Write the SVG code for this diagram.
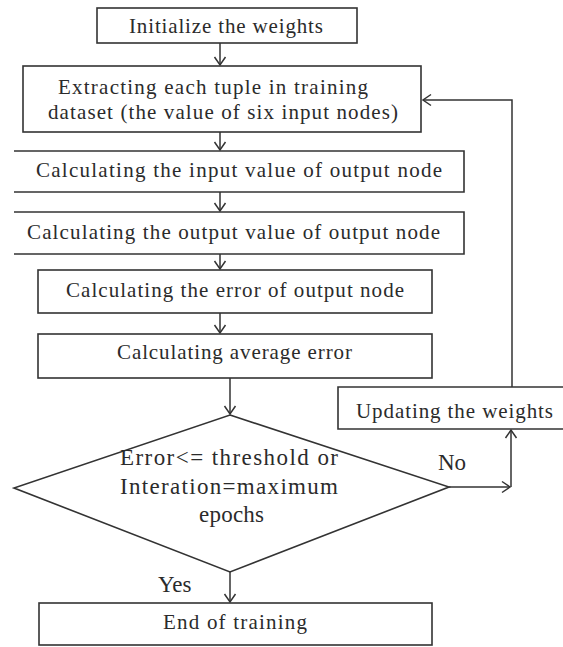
<svg xmlns="http://www.w3.org/2000/svg" width="563" height="647" viewBox="0 0 563 647">
<defs>
<style>
.box{fill:#fff;stroke:#333;stroke-width:1.6}
.ln{fill:none;stroke:#333;stroke-width:1.5}
.t{font-family:"Liberation Serif","Times New Roman",serif;font-size:21px;fill:#2b2b2b}
.dt{font-family:"Liberation Serif","Times New Roman",serif;font-size:23px;fill:#2b2b2b}
.lbl{font-family:"Liberation Serif","Times New Roman",serif;font-size:23px;fill:#2b2b2b}
</style>
<marker id="ah" viewBox="-10 -7 12 14" markerWidth="12" markerHeight="14" refX="0" refY="0" orient="auto" markerUnits="userSpaceOnUse">
<path d="M-8,-5.5 L0,0 L-8,5.5" fill="none" stroke="#333" stroke-width="1.5"/>
</marker>
</defs>
<rect width="563" height="647" fill="#fff"/>
<g id="connectors">
<path class="ln" d="M220,43 V65" marker-end="url(#ah)"/>
<path class="ln" d="M220,132 V150" marker-end="url(#ah)"/>
<path class="ln" d="M220,192 V211" marker-end="url(#ah)"/>
<path class="ln" d="M220,254 V269" marker-end="url(#ah)"/>
<path class="ln" d="M220,313 V333" marker-end="url(#ah)"/>
<path class="ln" d="M230,378 V414" marker-end="url(#ah)"/>
<path class="ln" d="M230,572 V602" marker-end="url(#ah)"/>
<path class="ln" d="M449,487 H510" marker-end="url(#ah)"/>
<path class="ln" d="M511,487 V430" marker-end="url(#ah)"/>
<path class="ln" d="M512,387 V100 H423" marker-end="url(#ah)"/>
<text class="lbl" x="438" y="470">No</text>
<text class="lbl" x="158" y="592">Yes</text>
</g>
<g id="n1">
<rect class="box" x="97" y="8" width="260" height="35"/>
<text class="t" x="129" y="33" textLength="194" lengthAdjust="spacing">Initialize the weights</text>
</g>
<g id="n2">
<rect class="box" x="23" y="66" width="398" height="66"/>
<text class="t" x="58" y="94" textLength="310" lengthAdjust="spacing">Extracting each tuple in training</text>
<text class="t" x="48" y="119" textLength="350" lengthAdjust="spacing">dataset  (the value of six input nodes)</text>
</g>
<g id="n3">
<path class="box" d="M14,151 H464 V192 H14"/>
<text class="t" x="36" y="177" textLength="406" lengthAdjust="spacing">Calculating the input value of output node</text>
</g>
<g id="n4">
<path class="box" d="M14,212 H464 V254 H14"/>
<text class="t" x="27" y="239" textLength="413" lengthAdjust="spacing">Calculating the output value of output node</text>
</g>
<g id="n5">
<rect class="box" x="38" y="270" width="394" height="43"/>
<text class="t" x="66" y="297" textLength="338" lengthAdjust="spacing">Calculating the error of output node</text>
</g>
<g id="n6">
<rect class="box" x="38" y="334" width="394" height="44"/>
<text class="t" x="117" y="359" textLength="235" lengthAdjust="spacing">Calculating average error</text>
</g>
<g id="n7">
<polygon class="box" points="230,415 449,487 230,572 14,488"/>
<text class="dt" x="120" y="465" textLength="218" lengthAdjust="spacing">Error&lt;= threshold or</text>
<text class="dt" x="120" y="494" textLength="218" lengthAdjust="spacing">Interation=maximum</text>
<text class="dt" x="199" y="522" textLength="65" lengthAdjust="spacing">epochs</text>
</g>
<g id="n8">
<path class="box" d="M564,387 H338 V429 H564"/>
<text class="t" x="356" y="418" textLength="197" lengthAdjust="spacing">Updating the weights</text>
</g>
<g id="n9">
<rect class="box" x="39" y="603" width="393" height="42"/>
<text class="t" x="163" y="629" textLength="144" lengthAdjust="spacing">End of training</text>
</g>
</svg>
